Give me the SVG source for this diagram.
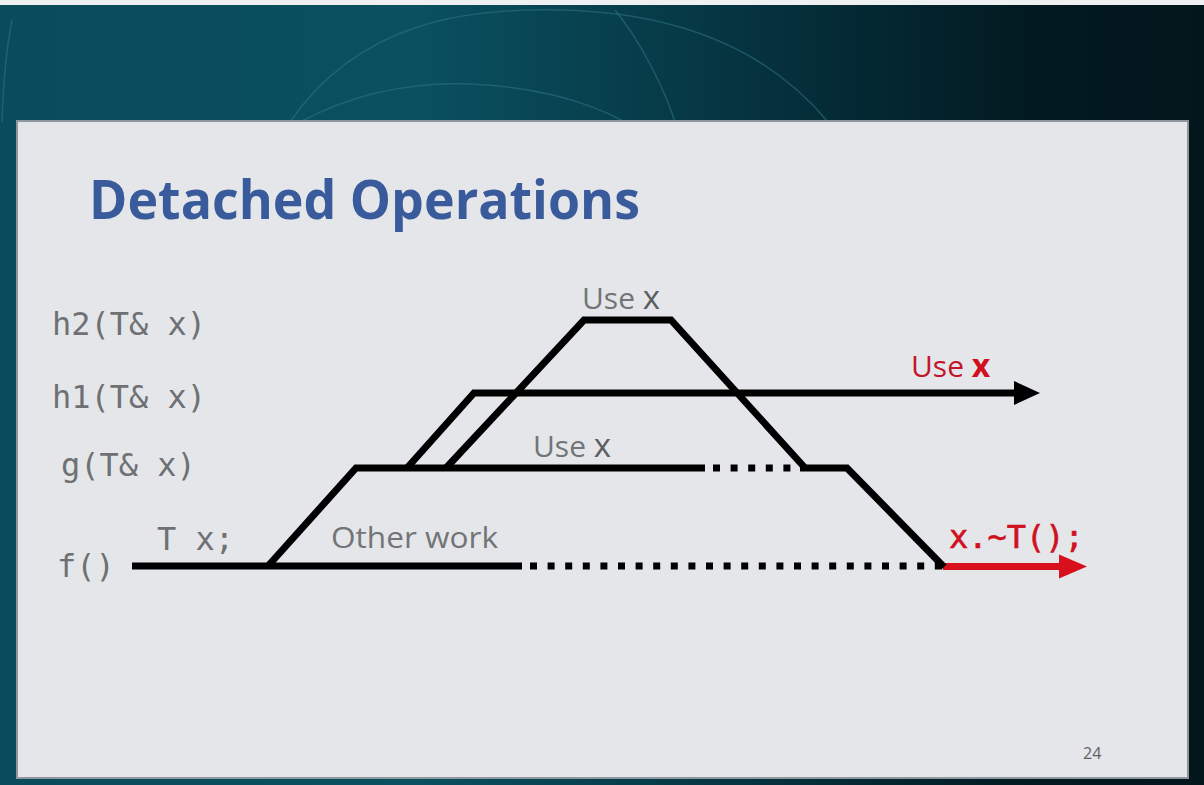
<svg xmlns="http://www.w3.org/2000/svg" width="1204" height="785" viewBox="0 0 1204 785">
  <defs>
    <linearGradient id="bg" x1="0" y1="0" x2="1" y2="0">
      <stop offset="0" stop-color="#0a4c5b"/>
      <stop offset="0.35" stop-color="#0a5060"/>
      <stop offset="0.65" stop-color="#05303c"/>
      <stop offset="0.85" stop-color="#021a21"/>
      <stop offset="1" stop-color="#03161c"/>
    </linearGradient>
    <marker id="ahBlack" markerUnits="userSpaceOnUse" markerWidth="26" markerHeight="26" viewBox="0 0 26 26" refX="1" refY="13" orient="auto">
      <path d="M0,1 L26,13 L0,25 Z" fill="#000"/>
    </marker>
    <marker id="ahRed" markerUnits="userSpaceOnUse" markerWidth="28" markerHeight="26" viewBox="0 0 28 26" refX="1" refY="13" orient="auto">
      <path d="M0,1 L28,13 L0,25 Z" fill="#d8101e"/>
    </marker>
    <style>
      .ln { fill: none; stroke: #000; stroke-width: 7; stroke-linejoin: miter; stroke-linecap: butt; }
      .dot { fill: none; stroke: #000; stroke-width: 7; stroke-dasharray: 7 10.6; }
      .mono { font-family: "DejaVu Sans Mono", "Liberation Mono", monospace; font-size: 32px; fill: #6e7073; }
      .sans { font-family: "Open Sans", "Noto Sans", sans-serif; font-size: 30px; fill: #727477; }
      .xv { font-family: "Open Sans", "Noto Sans", sans-serif; font-size: 33px; fill: #5c5e61; }
      .arc { fill: none; stroke: #2f7584; stroke-width: 1.5; opacity: 0.55; }
    </style>
  </defs>

  <!-- background -->
  <rect x="0" y="0" width="1204" height="785" fill="url(#bg)"/>
  <rect x="0" y="0" width="1204" height="5" fill="#eef0f1"/>
  <path class="arc" d="M290,122 C360,20 470,8 560,10 C660,12 760,40 828,122"/>
  <path class="arc" d="M615,10 C640,40 665,90 675,122"/>
  <path class="arc" d="M300,122 C360,90 420,82 470,84 C530,86 585,100 625,122"/>
  <path class="arc" d="M12,20 C6,50 3,90 2,122"/>

  <!-- slide panel -->
  <rect x="16" y="120" width="1173" height="659" fill="#8e979d"/>
  <rect x="18" y="122" width="1169" height="655" fill="#e4e6e9"/>

  <!-- title -->
  <text id="title" x="89" y="219" font-family="'Open Sans', 'Noto Sans', sans-serif" font-weight="700" font-size="54" fill="#3a5b9b" textLength="551" lengthAdjust="spacingAndGlyphs">Detached Operations</text>

  <!-- row labels -->
  <g id="label-h2"><text class="mono" x="52" y="335">h2(T&amp; x)</text></g>
  <g id="label-h1"><text class="mono" x="52" y="408">h1(T&amp; x)</text></g>
  <g id="label-g"><text class="mono" x="61" y="476">g(T&amp; x)</text></g>
  <g id="label-f"><text class="mono" x="57" y="577">f()</text></g>
  <g id="label-tx"><text class="mono" x="157" y="550">T x;</text></g>

  <!-- annotation labels -->
  <g id="label-usex-h2"><text class="sans" x="582" y="309">Use <tspan class="xv">x</tspan></text></g>
  <g id="label-usex-g"><text class="sans" x="533" y="457">Use <tspan class="xv">x</tspan></text></g>
  <g id="label-otherwork"><text class="sans" x="331" y="548" textLength="167" lengthAdjust="spacingAndGlyphs">Other work</text></g>
  <g id="label-usex-h1"><text x="911" y="377" font-family="'Open Sans', 'Noto Sans', sans-serif" font-size="30" fill="#c4142c">Use <tspan font-size="32" font-weight="700" fill="#d0101e">x</tspan></text></g>
  <g id="label-dtor"><text x="949" y="548" font-family="'DejaVu Sans Mono', 'Liberation Mono', monospace" font-size="32" fill="#d0101e" stroke="#d0101e" stroke-width="0.6">x.~T();</text></g>

  <!-- connectors -->
  <g id="connectors">
    <!-- f() -->
    <path class="ln" d="M132,566 H522"/>
    <path class="dot" d="M530,566 H943"/>
    <path d="M943,566.5 H1060" fill="none" stroke="#d8101e" stroke-width="7" marker-end="url(#ahRed)"/>
    <!-- g -->
    <path class="ln" d="M268,566 L356,468 H705"/>
    <path class="dot" d="M713,468 H800"/>
    <path class="ln" d="M800,468 H847 L944,567"/>
    <!-- h1 -->
    <path class="ln" d="M407,468 L474,393 H1015" marker-end="url(#ahBlack)"/>
    <!-- h2 -->
    <path class="ln" d="M446,468 L584,320 H671 L806,469"/>
  </g>

  <!-- page number -->
  <text id="page" x="1083" y="759" font-family="'Open Sans', 'Noto Sans', sans-serif" font-size="16" fill="#5f6164">24</text>
</svg>
